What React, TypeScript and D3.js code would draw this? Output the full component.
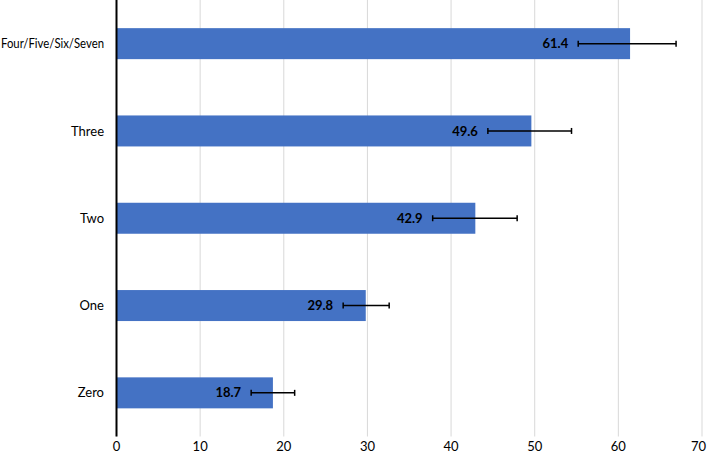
import React from "react";
import * as d3 from "d3";

const categories = ["Four/Five/Six/Seven", "Three", "Two", "One", "Zero"];
const values = [61.4, 49.6, 42.9, 29.8, 18.7];
const errLow = [6.2, 5.2, 5.1, 2.7, 2.6];
const errHigh = [5.5, 4.8, 5.0, 2.8, 2.6];
const xTicks = [0, 10, 20, 30, 40, 50, 60, 70];

function App() {
    const width = 708;
    const height = 458;
    const left = 116.5;
    const right = 702;
    const top = 0;
    const bottom = 436.5;

    const x = d3.scaleLinear().domain([0, 70]).range([left, right]);
    const y = d3.scaleBand()
        .domain(categories)
        .range([top, bottom])
        .paddingInner(0.645)
        .paddingOuter(0.3225);

    const font = "Lato, 'Open Sans', sans-serif";

    return (
        <svg width={width} height={height} style={{position: "absolute", left: 0, top: 0}}>
            <rect width={width} height={height} fill="#fff" />
            {xTicks.map((t) => (
                <line key={"g" + t} x1={x(t)} x2={x(t)} y1={top} y2={bottom} stroke="#d9d9d9" strokeWidth={1} />
            ))}
            {categories.map((c, i) => {
                const yc = (y(c) as number) + y.bandwidth() / 2;
                const lo = x(values[i] - errLow[i]);
                const hi = x(values[i] + errHigh[i]);
                // the long label is squeezed to the width it has in the original
                const fit = c.length > 12 ? {textLength: 103, lengthAdjust: "spacingAndGlyphs"} : {};
                return (
                    <g key={c}>
                        <rect x={x(0)} y={y(c)} width={x(values[i]) - x(0)} height={y.bandwidth()} fill="#4472C4" />
                        <line x1={lo} x2={hi} y1={yc} y2={yc} stroke="#000" strokeWidth={1.5} />
                        <line x1={lo} x2={lo} y1={yc - 3} y2={yc + 3} stroke="#000" strokeWidth={1.5} />
                        <line x1={hi} x2={hi} y1={yc - 3} y2={yc + 3} stroke="#000" strokeWidth={1.5} />
                        <text x={lo - 10} y={yc} dy="0.35em" textAnchor="end" fontFamily={font} fontWeight="bold" fontSize={13} fill="#000">
                            {values[i].toFixed(1)}
                        </text>
                        <text x={104} y={yc} dy="0.35em" textAnchor="end" fontFamily={font} fontSize={13} fill="#000" {...fit}>
                            {c}
                        </text>
                    </g>
                );
            })}
            <line x1={x(0)} x2={x(0)} y1={0} y2={bottom} stroke="#000" strokeWidth={2} />
            {xTicks.map((t, i) => (
                <text key={"t" + t} x={i === xTicks.length - 1 ? 706 : x(t)} y={446} dy="0.35em"
                    textAnchor={i === xTicks.length - 1 ? "end" : "middle"} fontFamily={font} fontSize={13} fill="#000">
                    {t}
                </text>
            ))}
        </svg>
    );
}

export default App;
